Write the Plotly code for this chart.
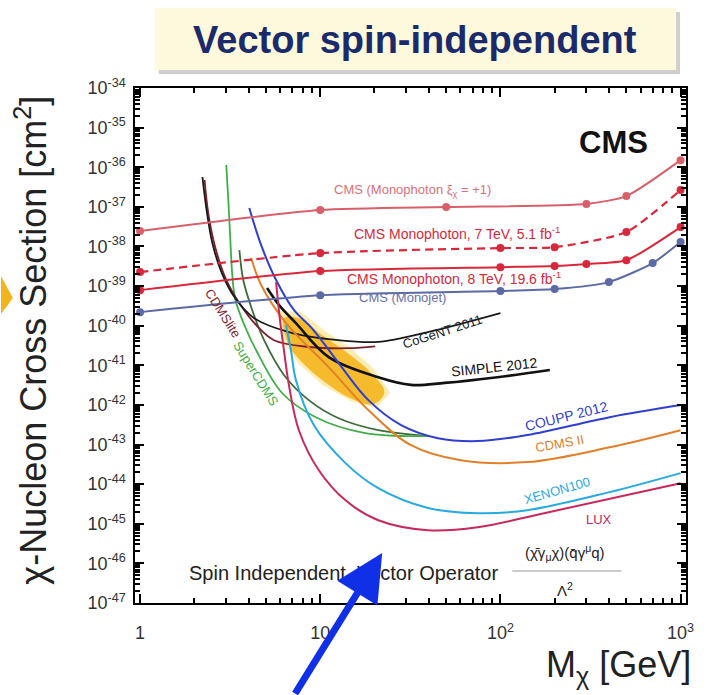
import plotly.graph_objects as go

# ---------------- data ----------------
# CMS collider limits
xi_mass = [1, 10, 50, 300, 500, 1000]
xi_sigma = [2.45e-38, 8.3e-38, 9.9e-38, 1.18e-37, 1.87e-37, 1.51e-36]

mono7_mass = [1, 10, 100, 200, 500, 1000]
mono7_sigma = [2.26e-39, 6.8e-39, 9.1e-39, 9.6e-39, 2.31e-38, 2.65e-37]

mono8_mass = [1, 10, 100, 200, 300, 500, 1000]
mono8_sigma = [7.9e-40, 2.4e-39, 3.0e-39, 3.2e-39, 3.6e-39, 4.5e-39, 3.09e-38]

monojet_mass = [1, 10, 100, 200, 400, 700, 1000]
monojet_sigma = [2.2e-40, 5.9e-40, 7.5e-40, 8.4e-40, 1.26e-39, 3.8e-39, 1.29e-38]

# direct detection limits
cogent_mass = [2.22, 2.34, 2.52, 2.83, 3.34, 4.30, 6.70, 12.65, 21.0, 39.6, 100]
cogent_sigma = [5.66e-37, 8.3e-38, 1.22e-38, 2.26e-39, 5.3e-40, 1.55e-40, 6.9e-41, 4.3e-41, 3.9e-41, 6.9e-41, 2.08e-40]

cdmslite_mass = [2.28, 2.40, 2.62, 2.98, 3.56, 4.41, 5.54, 8.64, 14.35, 20.2]
cdmslite_sigma = [4.75e-37, 6.2e-38, 9.1e-39, 1.6e-39, 3.7e-40, 1.04e-40, 4.3e-41, 2.9e-41, 2.7e-41, 3.0e-41]

supercdms_mass = [3.01, 3.09, 3.17, 3.25, 3.38, 3.79, 4.41, 6.14, 9.44, 17.8, 39.6]
supercdms_sigma = [1.14e-36, 1.49e-37, 1.45e-38, 1.9e-39, 4.5e-40, 1.04e-40, 2.4e-41, 2.0e-42, 4.9e-43, 1.94e-43, 1.63e-43]

cdmsge_mass = [3.56, 3.74, 4.19, 4.88, 6.29, 8.64, 12.65, 21.0, 39.6]
cdmsge_sigma = [8.1e-39, 1.42e-39, 2.5e-40, 4.3e-41, 5.7e-42, 1.32e-42, 4.6e-43, 2.3e-43, 1.63e-43]

coupp_mass = [4.04, 4.70, 5.69, 7.14, 8.98, 12.65, 18.5, 28.1, 45.0, 74.7, 141, 404, 1000]
coupp_sigma = [9.3e-38, 1.08e-38, 1.42e-39, 2.5e-40, 8.7e-41, 1.14e-41, 1.32e-42, 3.1e-43, 1.45e-43, 1.22e-43, 1.73e-43, 4.9e-43, 9.9e-43]

cdms2_mass = [4.14, 4.70, 6.46, 11.14, 18.5, 31.9, 60.2, 141, 404, 1000]
cdms2_sigma = [5.1e-39, 1.06e-39, 1.16e-40, 9.0e-42, 7.4e-43, 9.6e-44, 4.0e-44, 3.6e-44, 8.5e-44, 2.3e-43]

xenon_mass = [6.46, 6.88, 7.33, 9.21, 13.81, 21.0, 39.6, 74.7, 141, 404, 1000]
xenon_sigma = [1.04e-40, 2.4e-41, 4.2e-42, 3.1e-43, 3.4e-44, 7.9e-45, 2.5e-45, 1.85e-45, 2.2e-45, 6.3e-45, 1.9e-44]

lux_mass = [5.69, 5.98, 6.29, 6.70, 7.61, 9.82, 13.81, 21.0, 39.6, 74.7, 175, 1000]
lux_sigma = [1.26e-39, 1.38e-40, 2.4e-41, 3.2e-42, 2.3e-43, 2.25e-44, 3.9e-45, 1.23e-45, 6.9e-46, 8.2e-46, 1.85e-45, 1.06e-44]

simple_mass = [5.07, 5.91, 7.33, 11.14, 21.0, 31.9, 49.1, 96.3, 188]
simple_sigma = [8.9e-40, 3.3e-40, 1.16e-40, 1.61e-41, 5.0e-42, 3.2e-42, 3.6e-42, 5.0e-42, 7.6e-42]

# signal region (yellow blob)
blob_mass = [6.29, 7.61, 10.07, 14.0, 18.97, 22.7, 19.72, 14.7, 10.59, 7.91, 6.70, 6.29]
blob_sigma = [1.55e-40, 1.55e-40, 6.1e-41, 2.15e-41, 6.7e-42, 2.1e-42, 1.05e-42, 1.48e-42, 3.8e-42, 1.2e-41, 3.2e-41, 1.55e-40]
halo_mass = [5.9, 7.9, 10.6, 14.8, 20.0, 24.5, 20.5, 15.0, 10.3, 7.6, 6.2, 5.9]
halo_sigma = [2.4e-40, 2.2e-40, 7.5e-41, 2.7e-41, 8.0e-42, 2.0e-42, 8.5e-43, 1.2e-42, 3.2e-42, 1.1e-41, 4.0e-41, 2.4e-40]

x_tick_vals = [1, 10, 100, 1000]
x_tick_text = ["1", "10", "10<sup>2</sup>", "10<sup>3</sup>"]
x_minor_vals = [2, 3, 4, 5, 6, 7, 8, 9, 20, 30, 40, 50, 60, 70, 80, 90,
                200, 300, 400, 500, 600, 700, 800, 900]
y_exponents = [-34, -35, -36, -37, -38, -39, -40, -41, -42, -43, -44, -45, -46, -47]
y_tick_vals = [10.0 ** e for e in y_exponents]
y_tick_text = ["10<sup>%d</sup>" % e for e in y_exponents]
y_minor_vals = [m * 10.0 ** e for e in y_exponents[1:] for m in range(2, 10)]

# ---------------- figure ----------------
W, H = 706, 695
L, R, T, B = 135, 16, 88, 92
PW, PH = W - L - R, H - T - B


def px(xp):
    return (xp - L) / PW


def py(yp):
    return 1 - (yp - T) / PH


fig = go.Figure()

fig.add_trace(go.Scatter(x=halo_mass, y=halo_sigma, fill="toself", mode="lines",
                         fillcolor="rgba(250,215,90,0.45)", line=dict(width=0),
                         showlegend=False, hoverinfo="skip"))
fig.add_trace(go.Scatter(x=blob_mass, y=blob_sigma, fill="toself", mode="lines",
                         fillcolor="rgba(245,178,20,0.85)", line=dict(width=0, shape="spline"),
                         showlegend=False, hoverinfo="skip"))


def add_curve(x, y, color, width=1.8, dash="solid", markers=False, smoothing=1.0):
    fig.add_trace(go.Scatter(
        x=x, y=y, mode="lines+markers" if markers else "lines",
        line=dict(color=color, width=width, dash=dash, shape="spline", smoothing=smoothing),
        marker=dict(size=8, color=color),
        showlegend=False, hoverinfo="skip"))


add_curve(cdmsge_mass, cdmsge_sigma, "#3c6b3a")
add_curve(supercdms_mass, supercdms_sigma, "#3fae49")
add_curve(cdmslite_mass, cdmslite_sigma, "#7d1f2e")
add_curve(cogent_mass, cogent_sigma, "#1a1a1a")
add_curve(simple_mass, simple_sigma, "#111111", width=2.6)
add_curve(coupp_mass, coupp_sigma, "#2f3fd0", width=2)
add_curve(cdms2_mass, cdms2_sigma, "#e2802a", width=2)
add_curve(xenon_mass, xenon_sigma, "#27a9e1", width=2)
add_curve(lux_mass, lux_sigma, "#c8285a", width=2)

add_curve(xi_mass, xi_sigma, "#d9606b", width=2, markers=True, smoothing=0.6)
add_curve(mono7_mass, mono7_sigma, "#d9283b", width=2.2, dash="8px,5px", markers=True, smoothing=0.6)
add_curve(mono8_mass, mono8_sigma, "#d9283b", width=2, markers=True, smoothing=0.6)
add_curve(monojet_mass, monojet_sigma, "#5b6aa5", width=2, markers=True, smoothing=0.6)

FONT = "Liberation Sans, Arial, sans-serif"
ann = []


def label(text, x, y, size=13, color="#222", angle=0, bold=False, **kw):
    ann.append(dict(text=("<b>%s</b>" % text) if bold else text, x=px(x), y=py(y),
                    xref="paper", yref="paper", showarrow=False, textangle=angle,
                    font=dict(family=FONT, size=size, color=color),
                    xanchor="center", yanchor="middle", **kw))


label("Vector spin-independent", 417, 40, size=38, color="#1b2a6b", bold=True)
label("CMS", 617, 143, size=31, color="#111", bold=True)
label("CMS (Monophoton ξ<sub>χ</sub> = +1)", 415, 190, size=13, color="#de7078")
label("CMS Monophoton, 7 TeV, 5.1 fb<sup>-1</sup>", 459, 233, size=14, color="#d42a3c")
label("CMS Monophoton, 8 TeV, 19.6 fb<sup>-1</sup>", 456, 278, size=14, color="#d42a3c")
label("CMS (Monojet)", 404, 297, size=13, color="#6b6fa8")
label("CoGeNT 2011", 445, 331, size=13, color="#222", angle=-18)
label("SIMPLE 2012", 497, 367, size=14, color="#111", angle=-6)
label("COUPP 2012", 570, 416, size=14, color="#2f3fd0", angle=-14)
label("CDMS II", 563, 443, size=13, color="#e2802a", angle=-10)
label("XENON100", 560, 490, size=13, color="#27a9e1", angle=-16)
label("LUX", 602, 519, size=13, color="#c8285a")
label("CDMSlite", 224, 313, size=13, color="#7d1f2e", angle=58)
label("SuperCDMS", 257, 373, size=13, color="#3fae49", angle=58)
label("Spin Independent, Vector Operator", 345, 573, size=20, color="#222")
label("(χ̄γ<sub>μ</sub>χ)(q̄γ<sup>μ</sup>q)", 568, 552, size=15, color="#222")
label("Λ<sup>2</sup>", 568, 589, size=15, color="#222")
label("χ-Nucleon Cross Section [cm<sup>2</sup>]", 30, 340, size=36, color="#222", angle=-90)
label("M<sub>χ</sub> [GeV]", 622, 667, size=36, color="#222")

# blue arrow overlay
ann.append(dict(x=px(384), y=py(553), xref="paper", yref="paper", text="",
                showarrow=True, ax=296 - 384, ay=695 - 553, axref="pixel", ayref="pixel",
                arrowhead=2, arrowsize=1.35, arrowwidth=7, arrowcolor="#1030e8"))

shapes = [
    dict(type="rect", xref="paper", yref="paper", x0=px(159), x1=px(684), y0=py(74), y1=py(12),
         fillcolor="#cfcfcf", line=dict(width=0), layer="below"),
    dict(type="rect", xref="paper", yref="paper", x0=px(155), x1=px(680), y0=py(70), y1=py(8),
         fillcolor="#fdf9dc", line=dict(width=0), layer="below"),
    dict(type="line", xref="paper", yref="paper", x0=px(515), x1=px(625), y0=py(571), y1=py(571),
         line=dict(color="#999", width=1)),
    dict(type="path", xref="paper", yref="paper",
         path="M %f,%f L %f,%f L %f,%f Z" % (px(0), py(276), px(12), py(298), px(0), py(314)),
         fillcolor="#f2b31b", line=dict(width=0)),
]

axis_common = dict(type="log", showline=True, linecolor="black", linewidth=1.5, mirror="allticks",
                   ticks="inside", ticklen=9, tickwidth=1.5, tickcolor="black",
                   showgrid=False, zeroline=False,
                   tickfont=dict(family=FONT, size=18, color="#333"))

fig.update_layout(
    width=W, height=H, margin=dict(l=L, r=R, t=T, b=B),
    plot_bgcolor="white", paper_bgcolor="white", showlegend=False,
    xaxis=dict(axis_common, range=[-0.028, 3.030], tickvals=x_tick_vals, ticktext=x_tick_text,
               ticklabelstandoff=13,
               minor=dict(ticks="inside", ticklen=5, tickcolor="black", tickvals=x_minor_vals, showgrid=False)),
    yaxis=dict(axis_common, range=[-47, -34], tickvals=y_tick_vals, ticktext=y_tick_text,
               ticklabelstandoff=4,
               minor=dict(ticks="inside", ticklen=5, tickcolor="black", tickvals=y_minor_vals, showgrid=False)),
    annotations=ann, shapes=shapes,
)

fig.write_html("out.html")
